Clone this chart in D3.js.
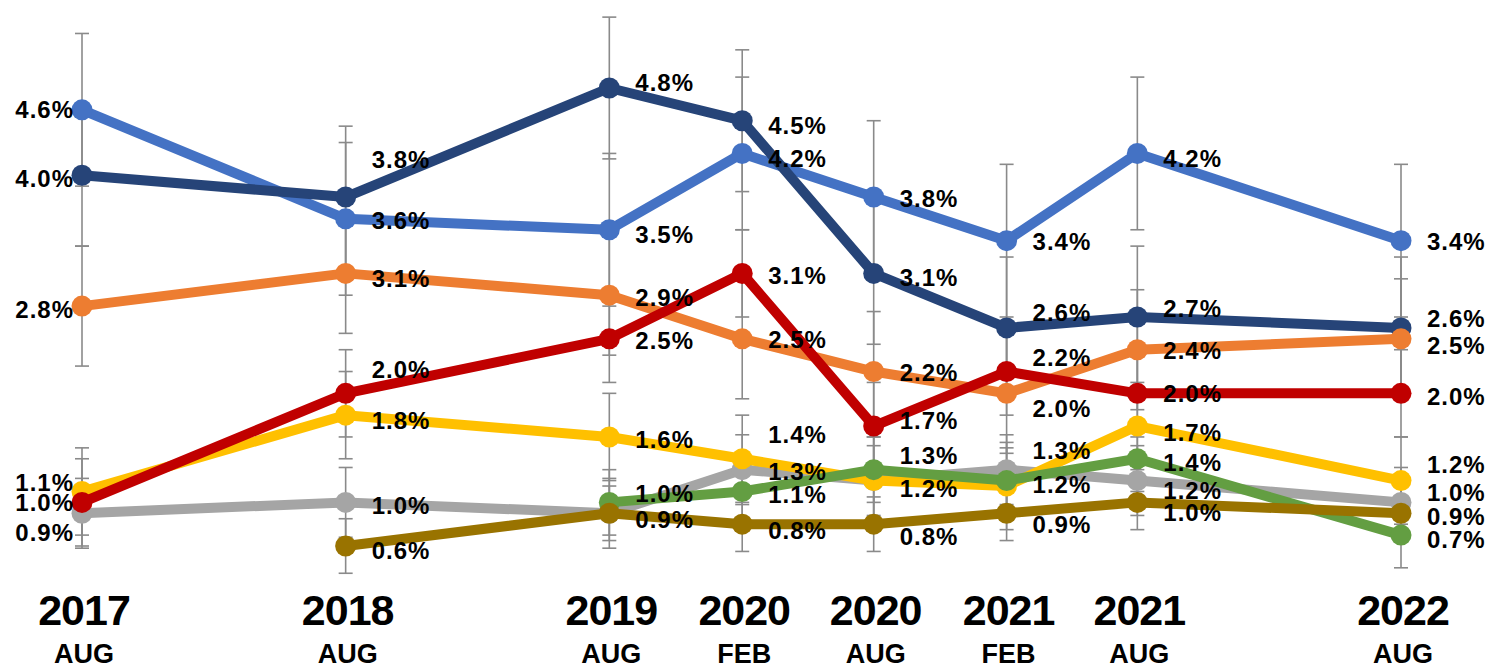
<!DOCTYPE html>
<html>
<head>
<meta charset="utf-8">
<script src="https://cdn.jsdelivr.net/npm/d3@7"></script>
<style>
    body { margin: 0; background: #fff; }
    svg { display: block; }
</style>
</head>
<body>
<div id="container"><svg></svg></div>
<script>
let width = 1503;
let height = 664;

// time points
let periods = ['2017 AUG', '2018 AUG', '2019 AUG', '2020 FEB', '2020 AUG', '2021 FEB', '2021 AUG', '2022 AUG'];

// series values (%), null = no value
let blueVals   = [4.6, 3.6, 3.5, 4.2, 3.8, 3.4, 4.2, 3.4];
let navyVals   = [4.0, 3.8, 4.8, 4.5, 3.1, 2.6, 2.7, 2.6];
let orangeVals = [2.8, 3.1, 2.9, 2.5, 2.2, 2.0, 2.4, 2.5];
let redVals    = [1.0, 2.0, 2.5, 3.1, 1.7, 2.2, 2.0, 2.0];
let yellowVals = [1.1, 1.8, 1.6, 1.4, 1.2, 1.15, 1.7, 1.2];
let grayVals   = [0.9, 1.0, 0.9, 1.3, 1.2, 1.3, 1.2, 1.0];
let greenVals  = [null, null, 1.0, 1.1, 1.3, 1.2, 1.4, 0.7];
let oliveVals  = [null, 0.6, 0.9, 0.8, 0.8, 0.9, 1.0, 0.9];

// error bar half widths (%)
let errMargins = {blue: 0.7, navy: 0.65, orange: 0.55, red: 0.4, yellow: 0.4, gray: 0.32, green: 0.3, olive: 0.25};

let colors = {blue: '#4472C4', navy: '#264478', orange: '#ED7D31', red: '#C00000',
              yellow: '#FFC000', gray: '#A5A5A5', green: '#639E42', olive: '#997300'};

// label vertical nudges (px), null = label hidden
let labelNudge = {
    blue:   [0, 2, 5, 5, 1, 1, 5, 1],
    navy:   [3, -38, -6, 5, 4, -15, -9, -9],
    orange: [3, 5, 2, 1, 1, 15, 1, 7],
    gray:   [19, 3, null, 2, null, -19, 10, -10],
    yellow: [-9, 5, 3, -24, 8, null, 6, -16],
    green:  [0, 0, -9, 3, -14, 4, 4, 4],
    olive:  [0, 4, 6, 6, 12, 11, 10, 3],
    red:    [0, -24, 2, 2, -6, -14, 0, 3]
};

// draw order (last on top)
let seriesOrder = ['blue', 'navy', 'orange', 'gray', 'yellow', 'green', 'olive', 'red'];
let seriesVals = {blue: blueVals, navy: navyVals, orange: orangeVals, red: redVals,
                  yellow: yellowVals, gray: grayVals, green: greenVals, olive: oliveVals};

let fontFamily = "'Liberation Sans', Arial, sans-serif";
let parseP = d3.timeParse('%Y %b');

function draw_main() {
    let svg = d3.select('#container').select('svg')
        .attr('width', width)
        .attr('height', height);

    let x = d3.scaleTime()
        .domain([parseP('2017 AUG'), parseP('2022 AUG')])
        .range([82, 1401]);
    let y = d3.scaleLinear()
        .domain([0.6, 4.8])
        .range([546, 88]);

    let series = seriesOrder.map(k => ({
        key: k,
        points: periods.map((p, i) => ({p: p, i: i, v: seriesVals[k][i]})).filter(d => d.v != null)
    }));

    // error bars
    let eb = svg.append('g').attr('stroke', '#8a8a8a').attr('stroke-width', 1.6);
    series.forEach(s => {
        let e = errMargins[s.key];
        s.points.forEach(d => {
            let cx = x(parseP(d.p));
            eb.append('line')
                .attr('x1', cx).attr('x2', cx)
                .attr('y1', y(d.v + e)).attr('y2', y(d.v - e));
            [d.v + e, d.v - e].forEach(v => {
                eb.append('line')
                    .attr('x1', cx - 7).attr('x2', cx + 7)
                    .attr('y1', y(v)).attr('y2', y(v));
            });
        });
    });

    // lines + markers
    let line = d3.line()
        .x(d => x(parseP(d.p)))
        .y(d => y(d.v));
    series.forEach(s => {
        let g = svg.append('g');
        g.append('path')
            .datum(s.points)
            .attr('d', line)
            .attr('fill', 'none')
            .attr('stroke', colors[s.key])
            .attr('stroke-width', 10)
            .attr('stroke-linejoin', 'round');
        g.selectAll('circle')
            .data(s.points)
            .enter().append('circle')
            .attr('cx', d => x(parseP(d.p)))
            .attr('cy', d => y(d.v))
            .attr('r', 10.5)
            .attr('fill', colors[s.key]);
    });

    // data labels
    let lab = svg.append('g')
        .attr('font-family', fontFamily)
        .attr('font-weight', 'bold')
        .attr('font-size', 24)
        .attr('letter-spacing', 1)
        .attr('fill', '#000');
    series.forEach(s => {
        s.points.forEach(d => {
            let nudge = labelNudge[s.key][d.i];
            if (nudge == null) return;
            let cx = x(parseP(d.p));
            let first = d.i == 0;
            lab.append('text')
                .attr('x', first ? cx - 8 : cx + 26)
                .attr('y', y(d.v) + nudge + 8.5)
                .attr('text-anchor', first ? 'end' : 'start')
                .text(d.v.toFixed(1) + '%');
        });
    });

    // x axis labels
    let axis = svg.append('g')
        .attr('font-family', fontFamily)
        .attr('font-weight', 'bold')
        .attr('fill', '#000')
        .attr('text-anchor', 'middle');
    axis.selectAll('text.year')
        .data(periods)
        .enter().append('text')
        .attr('class', 'year')
        .attr('x', d => x(parseP(d)) + 2)
        .attr('y', 625)
        .attr('font-size', 43)
        .attr('letter-spacing', -1)
        .text(d => d.split(' ')[0]);
    axis.selectAll('text.month')
        .data(periods)
        .enter().append('text')
        .attr('class', 'month')
        .attr('x', d => x(parseP(d)) + 2)
        .attr('y', 663)
        .attr('font-size', 27)
        .text(d => d.split(' ')[1]);
}

draw_main();
</script>
</body>
</html>
